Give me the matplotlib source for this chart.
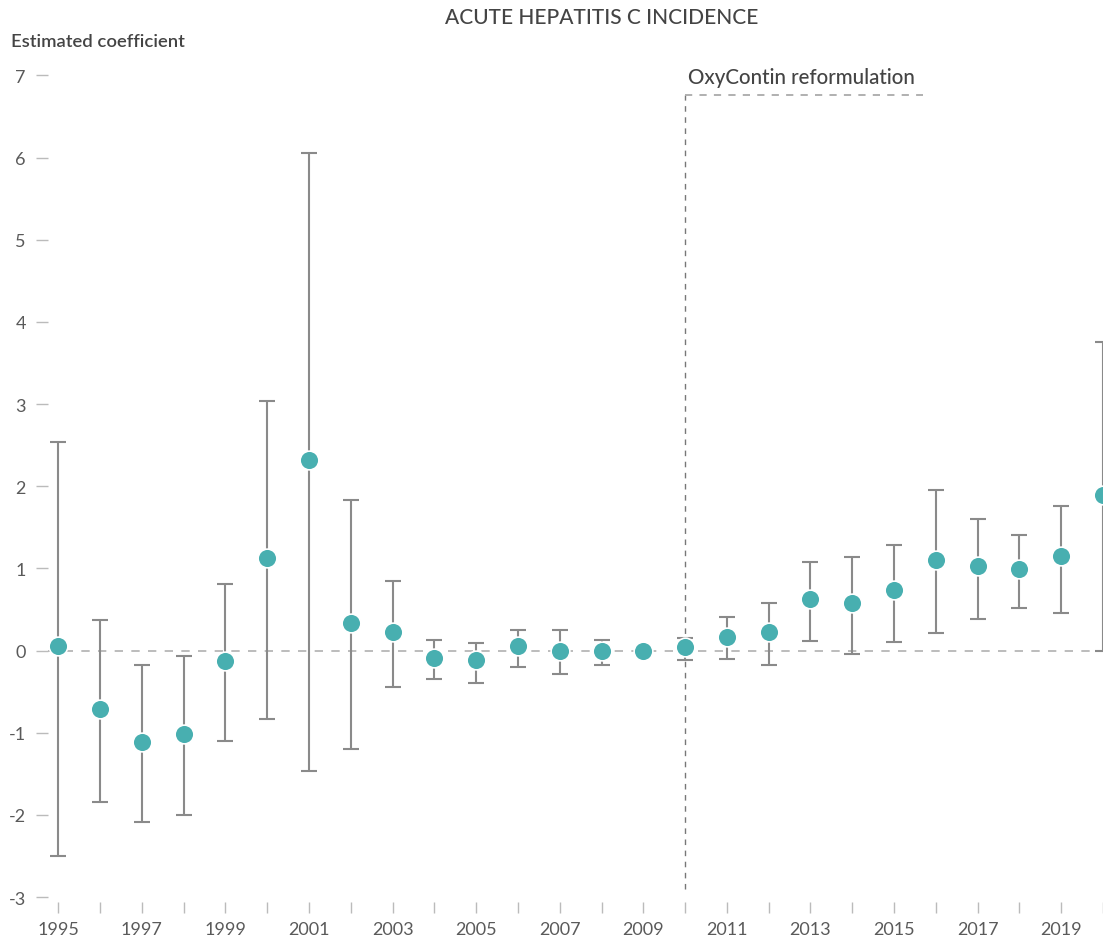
import numpy as np
import matplotlib
matplotlib.use("Agg")
import matplotlib.pyplot as plt

plt.rcParams['font.family'] = ['Lato', 'DejaVu Sans']

# event-study estimates, 2009 is the reference year
years = list(range(1995, 2021))
coef = [0.05, -0.71, -1.11, -1.01, -0.13, 1.13, 2.32, 0.33, 0.23, -0.09,
        -0.12, 0.06, 0.0, 0.0, 0.0, 0.04, 0.17, 0.23, 0.63, 0.58,
        0.74, 1.10, 1.03, 0.99, 1.15, 1.89]
ci_low = [-2.50, -1.84, -2.09, -2.00, -1.10, -0.83, -1.46, -1.20, -0.44, -0.34,
          -0.39, -0.20, -0.29, -0.18, 0.0, -0.12, -0.10, -0.17, 0.12, -0.04,
          0.10, 0.22, 0.38, 0.52, 0.46, 0.0]
ci_high = [2.54, 0.37, -0.17, -0.07, 0.81, 3.04, 6.06, 1.83, 0.85, 0.13,
           0.09, 0.25, 0.25, 0.13, 0.0, 0.15, 0.41, 0.58, 1.08, 1.14,
           1.28, 1.95, 1.60, 1.41, 1.76, 3.75]
policy_year = 2010
policy_label = "OxyContin reformulation"

W, H = 1103, 937
fig = plt.figure(figsize=(W / 100, H / 100), dpi=100)
ax = fig.add_axes([48 / W, 34 / H, 1055 / W, 843 / H])

x = np.array(years)
y = np.array(coef)
lo = y - np.array(ci_low)
hi = np.array(ci_high) - y

teal = "#48afb0"
grey = "#8a8a8a"
text_col = "#444444"

ax.axhline(0, color="#b0b0b0", lw=1.2, ls=(0, (5, 5)), zorder=1)

has_bar = (lo > 0) | (hi > 0)
ax.errorbar(x[has_bar], y[has_bar], yerr=[lo[has_bar], hi[has_bar]], fmt="none",
            ecolor=grey, elinewidth=1.5, capsize=6, capthick=1.5, zorder=2)
ax.plot(x, y, "o", ms=13.5, mfc=teal, mec="white", mew=1.2, zorder=3)

# reformulation marker
top = 6.76
ax.plot([policy_year, policy_year], [-2.9, top], color="#777777", lw=1,
        ls=(0, (4, 4)), zorder=1)
ax.plot([policy_year, 2015.7], [top, top], color="#aaaaaa", lw=1.3,
        ls=(0, (4, 4)), zorder=1)
ax.text(policy_year + 0.07, top + 0.1, policy_label, fontsize=14.8,
        color=text_col, fontweight="medium", va="bottom", ha="left")

ax.set_xlim(1994.755, 2019.874)
ax.set_ylim(-3.06, 7.2)

ax.set_xticks(years)
ax.set_xticklabels([str(v) if v % 2 == 1 else "" for v in years])
ax.set_yticks(range(-3, 8))
ax.set_yticklabels([str(v) for v in range(-3, 8)])
ax.tick_params(axis="x", length=8, width=1, color="#bbbbbb", pad=6,
               labelsize=13, labelcolor="#5a5a5a")
ax.tick_params(axis="y", length=9, width=1, color="#bbbbbb", pad=7,
               labelsize=13, labelcolor="#5a5a5a")

for s in ax.spines.values():
    s.set_visible(False)

fig.text(602 / W, 1 - 18 / H, "ACUTE HEPATITIS C INCIDENCE", ha="center",
         va="center", fontsize=15, color=text_col, fontweight="medium")
fig.text(11 / W, 1 - 42 / H, "Estimated coefficient", ha="left", va="center",
         fontsize=13.3, color=text_col, fontweight="semibold")

fig.savefig("out.png", dpi=100)
